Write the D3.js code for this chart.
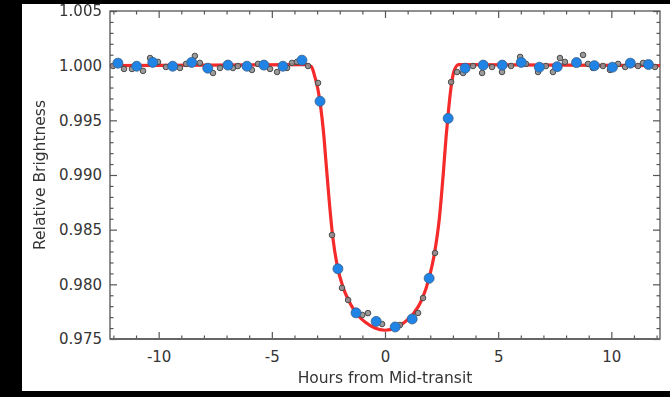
<!DOCTYPE html>
<html>
<head>
<meta charset="utf-8">
<script src="https://cdn.jsdelivr.net/npm/d3@7"></script>
<style>
  html, body { margin: 0; padding: 0; background: #000; }
  svg { display: block; filter: blur(0.45px); }
  text { font-family: "DejaVu Sans", sans-serif; fill: #353535; }
</style>
</head>
<body>
<svg id="chart" width="670" height="397"></svg>
<script>
// ---- data ----
const binnedHours = [-11.80, -10.97, -10.26, -9.38, -8.54, -7.83, -6.94, -6.10, -5.35, -4.51, -3.67, -2.87, -2.08, -1.28, -0.39, 0.45, 1.20, 1.95, 2.79, 3.54, 4.34, 5.18, 6.02, 6.82, 7.61, 8.46, 9.25, 10.05, 10.84, 11.64];
const binnedFlux  = [1.00023, 0.99995, 1.0003, 0.99995, 1.0003, 0.99977, 1.00005, 0.99995, 1.00005, 0.99995, 1.0005, 0.99674, 0.98142, 0.97739, 0.97661, 0.9761, 0.97683, 0.98055, 0.99518, 0.99977, 1.00005, 1.00005, 1.0003, 0.99986, 0.99991, 1.00028, 1.0, 0.99986, 1.00023, 1.0001];

const rawHours = [-12.02, -11.53, -11.18, -10.69, -10.38, -10.03, -9.68, -9.06, -8.79, -8.40, -8.18, -7.60, -7.29, -6.72, -6.50, -5.88, -5.61, -5.08, -4.77, -4.33, -4.11, -3.89, -3.40,
  -2.96, -2.34, -1.90, -1.63, -1.00, -0.75, -0.13, 0.66, 1.46, 1.68, 2.21, 2.92, 3.18,
  3.45, 3.89, 4.29, 4.73, 5.17, 5.57, 5.97, 6.23, 6.76, 7.11, 7.42, 7.73, 7.95, 8.75, 8.97, 9.19, 9.63, 9.94, 10.30, 10.61, 11.18, 11.40, 11.93];
const rawFlux = [0.99997, 0.9997, 0.9997, 0.99952, 1.0007, 1.00034, 0.99988, 0.99979, 1.00016, 1.00089, 1.00025, 0.99933, 0.99979, 0.99979, 0.99997, 0.99961, 1.00016, 0.9997, 0.99942, 0.99979, 1.00025, 1.00034, 0.99997,
  0.99842, 0.98451, 0.97967, 0.97857, 0.9772, 0.97737, 0.97637, 0.97628, 0.97738, 0.97875, 0.98287, 0.9985, 0.99942,
  0.99933, 0.99997, 0.99933, 0.99988, 0.99942, 0.99997, 1.0008, 1.00016, 0.99942, 0.99997, 0.99942, 1.0007, 1.00034, 1.00098, 1.00016, 0.99979, 0.99997, 0.99961, 1.00016, 0.99988, 0.99997, 1.00025, 0.99988];

const modelHours = [-12.15, -3.45, -3.25, -3.1, -2.96, -2.84, -2.72, -2.6, -2.45, -2.3, -2.12, -1.85, -1.55, -1.25, -0.85, -0.45, 0.0, 0.45, 0.85, 1.25, 1.65, 1.95, 2.2, 2.4, 2.57, 2.7, 2.82, 2.93, 3.05, 3.25, 12.15];
const modelFlux  = [1.0, 1.0001, 0.9999, 0.9990, 0.9978, 0.9962, 0.9940, 0.9910, 0.9873, 0.9842, 0.9818, 0.9797, 0.9783, 0.9773, 0.9765, 0.9760, 0.9758, 0.9760, 0.9765, 0.9773, 0.9787, 0.9806, 0.9830, 0.9860, 0.9900, 0.9935, 0.9962, 0.9982, 0.9995, 1.0001, 1.0];

const xMajorTicks = [-10, -5, 0, 5, 10];
const xMajorLabels = ["-10", "-5", "0", "5", "10"];
const xMinorTicks = [-12, -11, -9, -8, -7, -6, -4, -3, -2, -1, 1, 2, 3, 4, 6, 7, 8, 9, 11, 12];
const yMajorTicks = [0.975, 0.980, 0.985, 0.990, 0.995, 1.000, 1.005];
const yMajorLabels = ["0.975", "0.980", "0.985", "0.990", "0.995", "1.000", "1.005"];
const yMinorTicks = [0.976, 0.977, 0.978, 0.979, 0.981, 0.982, 0.983, 0.984, 0.986, 0.987, 0.988, 0.989, 0.991, 0.992, 0.993, 0.994, 0.996, 0.997, 0.998, 0.999, 1.001, 1.002, 1.003, 1.004];
const xTitle = "Hours from Mid-transit";
const yTitle = "Relative Brightness";

// ---- drawing ----
const svg = d3.select("#chart");
svg.append("rect").attr("x", 22).attr("y", 4).attr("width", 648).attr("height", 387).attr("fill", "#fff");

const L = 110, R = 660, T = 11, B = 339;
const x = d3.scaleLinear().domain([-12.15, 12.15]).range([L, R]);
const y = d3.scaleLinear().domain([0.975, 1.005]).range([B, T]);

const axisColor = "#555";
const majorLen = 7, minorLen = 3.5;

function styleAxis(g) {
  g.select(".domain").remove();
  g.selectAll(".tick line").attr("stroke", axisColor).attr("stroke-width", 1.2);
}

// bottom
svg.append("g").attr("transform", `translate(0,${B})`)
  .call(d3.axisBottom(x).tickValues(xMajorTicks).tickSize(-majorLen).tickPadding(12).tickFormat((d, i) => xMajorLabels[i]))
  .call(styleAxis)
  .call(g => g.selectAll("text").attr("font-size", 15).attr("fill", "#353535").attr("font-family", "DejaVu Sans"));
svg.append("g").attr("transform", `translate(0,${B})`)
  .call(d3.axisBottom(x).tickValues(xMinorTicks).tickSize(-minorLen).tickFormat(""))
  .call(styleAxis);
// top
svg.append("g").attr("transform", `translate(0,${T})`)
  .call(d3.axisTop(x).tickValues(xMajorTicks).tickSize(-majorLen).tickFormat(""))
  .call(styleAxis);
svg.append("g").attr("transform", `translate(0,${T})`)
  .call(d3.axisTop(x).tickValues(xMinorTicks).tickSize(-minorLen).tickFormat(""))
  .call(styleAxis);
// left
svg.append("g").attr("transform", `translate(${L},0)`)
  .call(d3.axisLeft(y).tickValues(yMajorTicks).tickSize(-majorLen).tickPadding(8).tickFormat((d, i) => yMajorLabels[i]))
  .call(styleAxis)
  .call(g => g.selectAll("text").attr("font-size", 15).attr("fill", "#353535").attr("font-family", "DejaVu Sans"));
svg.append("g").attr("transform", `translate(${L},0)`)
  .call(d3.axisLeft(y).tickValues(yMinorTicks).tickSize(-minorLen).tickFormat(""))
  .call(styleAxis);
// right
svg.append("g").attr("transform", `translate(${R},0)`)
  .call(d3.axisRight(y).tickValues(yMajorTicks).tickSize(-majorLen).tickFormat(""))
  .call(styleAxis);
svg.append("g").attr("transform", `translate(${R},0)`)
  .call(d3.axisRight(y).tickValues(yMinorTicks).tickSize(-minorLen).tickFormat(""))
  .call(styleAxis);

// frame
svg.append("rect").attr("x", L).attr("y", T).attr("width", R - L).attr("height", B - T)
  .attr("fill", "none").attr("stroke", axisColor).attr("stroke-width", 1.3);
svg.append("line").attr("x1", L).attr("x2", R).attr("y1", B).attr("y2", B)
  .attr("stroke", "#666").attr("stroke-width", 2.2);

// model curve
const line = d3.line().x((d, i) => x(modelHours[i])).y((d, i) => y(modelFlux[i])).curve(d3.curveMonotoneX);
svg.append("path").datum(modelHours).attr("d", line)
  .attr("fill", "none").attr("stroke", "#f52a2a").attr("stroke-width", 3.2).attr("stroke-linejoin", "round");

// raw points
svg.append("g").selectAll("circle").data(rawHours).join("circle")
  .attr("cx", (d) => x(d)).attr("cy", (d, i) => y(rawFlux[i])).attr("r", 2.8)
  .attr("fill", "#8f8f8f").attr("stroke", "#4a4a4a").attr("stroke-width", 1).attr("fill-opacity", 0.9);

// binned points
svg.append("g").selectAll("circle").data(binnedHours).join("circle")
  .attr("cx", (d) => x(d)).attr("cy", (d, i) => y(binnedFlux[i])).attr("r", 5)
  .attr("fill", "#1f84e6").attr("stroke", "#3a5f86").attr("stroke-width", 0.8);

// titles
svg.append("text").attr("x", (L + R) / 2).attr("y", 383).attr("text-anchor", "middle")
  .attr("font-size", 15.5).text(xTitle);
svg.append("text").attr("transform", `translate(45,175) rotate(-90)`).attr("text-anchor", "middle")
  .attr("font-size", 15.5).text(yTitle);
</script>
</body>
</html>
